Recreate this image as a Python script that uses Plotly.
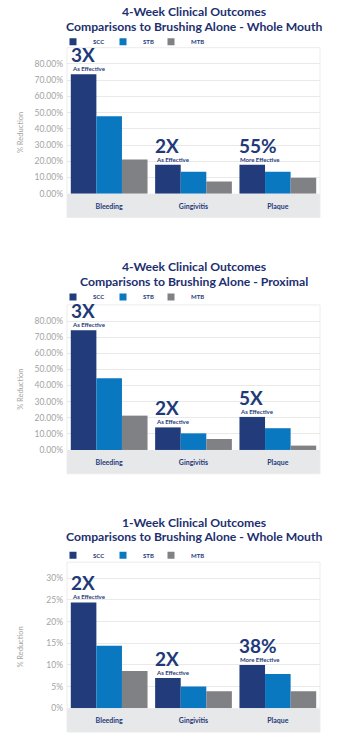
import plotly.graph_objects as go

# ---------------- data ----------------
categories = ["Bleeding", "Gingivitis", "Plaque"]
series_names = ["SCC", "STB", "MTB"]

c1_title = ["4-Week Clinical Outcomes", "Comparisons to Brushing Alone - Whole Mouth"]
c1_scc = [0.736, 0.179, 0.179]
c1_stb = [0.477, 0.136, 0.136]
c1_mtb = [0.211, 0.075, 0.099]
c1_big = ["3X", "2X", "55%"]
c1_small = ["As Effective", "As Effective", "More Effective"]
c1_ticks = [0.0, 0.1, 0.2, 0.3, 0.4, 0.5, 0.6, 0.7, 0.8]

c2_title = ["4-Week Clinical Outcomes", "Comparisons to Brushing Alone - Proximal"]
c2_scc = [0.743, 0.140, 0.205]
c2_stb = [0.445, 0.103, 0.135]
c2_mtb = [0.213, 0.068, 0.027]
c2_big = ["3X", "2X", "5X"]
c2_small = ["As Effective", "As Effective", "As Effective"]
c2_ticks = [0.0, 0.1, 0.2, 0.3, 0.4, 0.5, 0.6, 0.7, 0.8]

c3_title = ["1-Week Clinical Outcomes", "Comparisons to Brushing Alone - Whole Mouth"]
c3_scc = [0.244, 0.070, 0.100]
c3_stb = [0.144, 0.050, 0.079]
c3_mtb = [0.086, 0.039, 0.039]
c3_big = ["2X", "2X", "38%"]
c3_small = ["As Effective", "As Effective", "More Effective"]
c3_ticks = [0.0, 0.05, 0.10, 0.15, 0.20, 0.25, 0.30]

y_title = "% Reduction"

# ---------------- styling ----------------
W, H = 339, 744
FONT = "Lato"
NAVY = "#1f3a78"
TITLE_NAVY = "#1d2f6f"
COLORS = ["#213b7b", "#0a77c1", "#808185"]
BAND = "#e7e8ea"
GRID = "#e9e9e9"
TICKC = "#a3a3a3"

charts = [
    dict(title=c1_title, vals=[c1_scc, c1_stb, c1_mtb], big=c1_big, small=c1_small,
         ticks=c1_ticks, fmt=".2%", rng=[0, 0.9], top=48, bottom=195, t1=12, t2=26.5, leg=42),
    dict(title=c2_title, vals=[c2_scc, c2_stb, c2_mtb], big=c2_big, small=c2_small,
         ticks=c2_ticks, fmt=".2%", rng=[0, 0.9], top=307, bottom=453, t1=268.5, t2=283, leg=299),
    dict(title=c3_title, vals=[c3_scc, c3_stb, c3_mtb], big=c3_big, small=c3_small,
         ticks=c3_ticks, fmt=".0%", rng=[0, 0.337], top=566, bottom=713, t1=526, t2=540.5, leg=559),
]

LEFT, RIGHT = 67, 320
BAND_H = 24
BARGAP = 0.09
LEG_X = [53, 103, 151]   # left edges of the legend entries (px)


def px(y):
    return 1 - y / H


fig = go.Figure()
annotations = []
shapes = []
layout = {}
leg_idx = 0

for k, ch in enumerate(charts):
    sfx = "" if k == 0 else str(k + 1)
    xa, ya = "x" + sfx, "y" + sfx
    for s, name in enumerate(series_names):
        leg_idx += 1
        leg = "legend" if leg_idx == 1 else "legend" + str(leg_idx)
        fig.add_trace(go.Bar(
            x=categories, y=ch["vals"][s], name=name, marker_color=COLORS[s],
            marker_line_width=0, xaxis=xa, yaxis=ya, showlegend=False,
        ))
        # legend entry (small square marker)
        fig.add_trace(go.Scatter(
            x=[None], y=[None], mode="markers", name=name, xaxis=xa, yaxis=ya,
            marker=dict(symbol="square", size=7, color=COLORS[s]),
            legend=leg, showlegend=True,
        ))
        layout[leg] = dict(
            orientation="h", x=LEG_X[s] / W, xanchor="left", y=px(ch["leg"]), yanchor="middle",
            font=dict(family=FONT, size=6, color=NAVY, weight="bold"),
            bgcolor="rgba(0,0,0,0)", itemclick=False, itemdoubleclick=False,
        )

    layout["xaxis" + sfx] = dict(
        domain=[LEFT / W, RIGHT / W], anchor=ya, type="category",
        showgrid=False, zeroline=False, showline=False, ticks="",
        tickfont=dict(family=FONT, size=7, color=NAVY, weight="bold"),
        ticklabelstandoff=7, fixedrange=True,
    )
    layout["yaxis" + sfx] = dict(
        domain=[px(ch["bottom"]), px(ch["top"])], anchor=xa, range=ch["rng"],
        tickvals=ch["ticks"], tickformat=ch["fmt"], showgrid=True, gridcolor=GRID,
        gridwidth=1, zeroline=False, showline=False, ticks="",
        tickfont=dict(family=FONT, size=8.5, color=TICKC), ticklabelstandoff=3,
        fixedrange=True,
    )

    # titles
    for line, yy in zip(ch["title"], [ch["t1"], ch["t2"]]):
        annotations.append(dict(
            text=line, xref="paper", yref="paper", x=(LEFT + RIGHT) / 2 / W, y=px(yy),
            xanchor="center", yanchor="middle", showarrow=False, borderpad=0,
            font=dict(family=FONT, size=12.2, color=TITLE_NAVY, weight="bold"),
        ))

    # y axis title
    annotations.append(dict(
        text=y_title, xref="paper", yref="paper", x=20.5 / W,
        y=px((ch["top"] + ch["bottom"] + BAND_H) / 2), xanchor="center", yanchor="middle",
        textangle=-90, showarrow=False, font=dict(family=FONT, size=7.5, color=TICKC),
    ))

    # category band and frame
    shapes.append(dict(type="rect", xref="paper", yref="paper", x0=LEFT / W, x1=RIGHT / W,
                       y0=px(ch["bottom"] + BAND_H), y1=px(ch["bottom"]),
                       fillcolor=BAND, line_width=0, layer="below"))
    shapes.append(dict(type="rect", xref="paper", yref="paper", x0=LEFT / W, x1=RIGHT / W,
                       y0=px(ch["bottom"] + BAND_H), y1=px(ch["top"]),
                       fillcolor="rgba(0,0,0,0)", line=dict(color="#ececec", width=1),
                       layer="below"))

    # callouts above the SCC bar of each category
    for i, cat in enumerate(categories):
        xpos = i - (1 - BARGAP) / 2
        top_val = ch["vals"][0][i]
        annotations.append(dict(
            text=ch["small"][i], xref=xa, yref=ya, x=xpos, y=top_val,
            xanchor="left", yanchor="bottom", yshift=0, xshift=-1, showarrow=False,
            font=dict(family=FONT, size=6, color=NAVY, weight="bold"),
        ))
        annotations.append(dict(
            text=ch["big"][i], xref=xa, yref=ya, x=xpos, y=top_val,
            xanchor="left", yanchor="bottom", yshift=6, xshift=-2, showarrow=False,
            font=dict(family=FONT, size=19, color=NAVY, weight="bold"),
        ))

fig.update_layout(
    width=W, height=H, margin=dict(l=0, r=0, t=0, b=0, pad=0),
    paper_bgcolor="white", plot_bgcolor="white",
    barmode="group", bargap=BARGAP, bargroupgap=0,
    annotations=annotations, shapes=shapes, hovermode=False,
    font=dict(family=FONT), **layout,
)

fig.write_html("out.html", config={"displayModeBar": False})
